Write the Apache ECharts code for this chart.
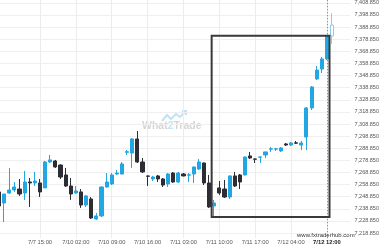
<!DOCTYPE html>
<html><head><meta charset="utf-8">
<script src="https://cdn.jsdelivr.net/npm/echarts@6/dist/echarts.min.js"></script>
<style>html,body{margin:0;padding:0;background:#fff}#c{width:380px;height:250px}</style>
</head><body><div id="c"></div>
<script>
const categories = [
 '7/7 07:00','7/7 08:00','7/7 09:00','7/7 10:00','7/7 11:00','7/7 12:00','7/7 13:00','7/7 14:00','7/7 15:00','7/7 16:00',
 '7/7 17:00','7/7 18:00','7/7 19:00','7/7 20:00','7/7 21:00','7/10 02:00','7/10 03:00','7/10 04:00','7/10 05:00','7/10 06:00',
 '7/10 07:00','7/10 08:00','7/10 09:00','7/10 10:00','7/10 11:00','7/10 12:00','7/10 13:00','7/10 14:00','7/10 15:00','7/10 16:00',
 '7/10 17:00','7/10 18:00','7/10 19:00','7/10 20:00','7/10 21:00','7/11 02:00','7/11 03:00','7/11 04:00','7/11 05:00','7/11 06:00',
 '7/11 07:00','7/11 08:00','7/11 09:00','7/11 10:00','7/11 11:00','7/11 12:00','7/11 13:00','7/11 14:00','7/11 15:00','7/11 16:00',
 '7/11 17:00','7/11 18:00','7/11 19:00','7/11 20:00','7/11 21:00','7/12 02:00','7/12 03:00','7/12 04:00','7/12 05:00','7/12 06:00',
 '7/12 07:00','7/12 08:00','7/12 09:00','7/12 10:00','7/12 12:00','7/12 13:00','7/12 14:00','7/12 15:00','7/12 16:00'
];
const tickLabels = ['7/7 15:00','7/10 02:00','7/10 09:00','7/10 16:00','7/11 03:00','7/11 10:00','7/11 17:00','7/12 04:00','7/12 12:00'];
const opens = [7252.8,7243.7,7251.9,7254.4,7255.2,7251.9,7261.0,7260.2,7260.2,7256.1,
 7277.5,7278.3,7275.0,7266.8,7257.7,7251.9,7252.8,7242.0,7247.0,7230.5,
 7233.0,7256.9,7259.4,7267.6,7267.6,7285.5,7284.9,7296.5,7277.5,7266.0,
 7263.5,7266.0,7263.5,7259.4,7268.4,7261.0,7267.6,7266.6,7267.6,7271.7,
 7276.7,7260.2,7241.2,7256.1,7255.2,7248.6,7266.0,7266.8,7266.8,7282.5,
 7280.0,7281.4,7283.3,7288.1,7288.1,7286.6,7292.4,7291.5,7293.3,7291.5,
 7298.1,7322.1,7346.0,7354.2,7362.5,7381.5];
const closes = [7241.2,7251.1,7254.4,7256.9,7251.1,7261.0,7260.2,7261.8,7252.8,7277.5,
 7279.2,7273.4,7265.1,7257.7,7251.1,7253.6,7242.0,7249.5,7231.3,7233.0,
 7256.9,7261.0,7266.8,7268.4,7275.9,7286.0,7296.5,7277.5,7269.3,7265.7,
 7265.1,7263.5,7258.5,7267.6,7261.0,7268.4,7266.0,7266.9,7273.4,7277.5,
 7260.2,7240.4,7243.7,7251.9,7248.6,7266.0,7257.7,7261.0,7281.6,7280.8,
 7279.8,7281.7,7285.8,7288.4,7288.4,7289.1,7291.5,7293.2,7293.0,7293.2,
 7322.1,7339.4,7353.4,7362.5,7381.5,7390.5];
const lows = [7239.6,7228.0,7251.1,7252.8,7249.5,7246.2,7240.4,7257.7,7248.6,7256.1,
 7276.7,7272.6,7263.5,7256.9,7246.2,7251.5,7239.6,7240.4,7230.5,7229.7,
 7232.1,7256.5,7258.5,7266.8,7267.2,7283.3,7272.6,7276.7,7268.4,7257.7,
 7261.8,7261.0,7256.9,7256.9,7260.2,7260.2,7265.7,7261.0,7260.2,7270.9,
 7258.5,7239.6,7232.1,7250.3,7247.8,7247.0,7256.9,7255.2,7266.4,7280.0,
 7276.7,7276.7,7280.8,7285.8,7286.6,7285.8,7290.7,7290.7,7292.4,7287.4,
 7287.4,7320.4,7345.2,7350.9,7361.7,7374.9];
const highs = [7254.4,7251.1,7272.6,7261.0,7263.5,7270.1,7264.3,7269.3,7263.5,7278.3,
 7283.3,7279.2,7275.5,7272.6,7264.3,7257.7,7255.2,7250.3,7248.6,7235.4,
 7257.3,7268.4,7268.4,7270.9,7277.5,7287.4,7297.3,7303.1,7280.8,7266.2,
 7266.0,7266.8,7264.3,7268.4,7269.3,7269.3,7268.4,7268.4,7273.6,7280.0,
 7277.0,7266.8,7246.2,7261.8,7262.7,7266.4,7269.3,7267.6,7282.0,7285.8,
 7280.2,7281.9,7286.0,7289.9,7289.1,7289.9,7293.2,7294.0,7294.8,7294.8,
 7322.9,7340.2,7356.7,7364.1,7381.6,7400.4];
const rangeStart = 42, rangeEnd = 64;
const currentLabel = '7/12 12:00';

const UP = '#22a6e4', DOWN = '#2d2d35';
const rectLow = Math.min(...lows.slice(rangeStart, rangeEnd + 1));
const rectHigh = Math.max(...highs.slice(rangeStart, rangeEnd + 1));
const candleData = categories.map((c, i) => {
  if (i >= opens.length) return '-';
  const v = [opens[i], closes[i], lows[i], highs[i]];
  if (i === opens.length - 1) return {value: v, itemStyle: {color: '#ffffff', borderColor: '#86cff2'}};
  return v;
});
const fmt = v => {
  const s = v.toFixed(3); const [a, b] = s.split('.');
  return a.replace(/\B(?=(\d{3})+(?!\d))/g, ',') + '.' + b;
};
const yBot = 7214.6, yTop = 7411.2;
const gridLines = tickLabels.map(l => [{coord: [l, yBot]}, {coord: [l, yTop]}]);
gridLines.push([{coord: [currentLabel, yBot], lineStyle: {color: '#5f8088', type: [1, 2], width: 1}}, {coord: [currentLabel, yTop]}]);

const chart = echarts.init(document.getElementById('c'), null, {renderer: 'canvas'});
chart.setOption({
  animation: false,
  grid: {left: -3.56, right: 30, top: -9.32, bottom: 4.8, containLabel: false, outerBoundsMode: 'none'},
  xAxis: {
    type: 'category', data: categories, boundaryGap: true, offset: -8,
    axisLine: {show: false}, axisTick: {show: false}, splitLine: {show: false},
    axisLabel: {
      margin: 2, fontSize: 5.8, color: '#555', fontFamily: 'Liberation Sans',
      interval: (i, v) => tickLabels.includes(v),
      formatter: v => v === currentLabel ? '{b|' + v + '}' : v,
      rich: {b: {fontSize: 5.8, color: '#222', fontWeight: 'bold', fontFamily: 'Liberation Sans'}}
    }
  },
  yAxis: {
    type: 'value', position: 'right', min: 7208.85, max: 7418.85, interval: 10, scale: true,
    axisLine: {show: false}, axisTick: {show: false},
    splitLine: {show: true, showMinLine: false, showMaxLine: false, lineStyle: {color: '#efefef', width: 1}},
    axisLabel: {
      margin: 4.5, fontSize: 5.5, color: '#555', fontFamily: 'Liberation Sans',
      formatter: v => (v < 7218 || v > 7409) ? '' : fmt(v)
    }
  },
  graphic: {elements: [
    {type: 'polyline', z: 0, silent: true, shape: {points: [[162,121],[167,115],[171,119],[176,114],[180,117],[186,111]]}, style: {stroke: '#bfe3f5', lineWidth: 2, fill: null}},
    {type: 'polyline', z: 0, silent: true, shape: {points: [[182,111],[186,111],[186,115]]}, style: {stroke: '#bfe3f5', lineWidth: 2, fill: null}},
    {type: 'text', z: 0, silent: true, left: 142, top: 121, style: {text: '{a|What}{b|2}{a|Trade}', rich: {
      a: {fill: '#d4d4d4', fontSize: 10.5, fontWeight: 'bold', fontFamily: 'Liberation Sans'},
      b: {fill: '#c2e4f5', fontSize: 10.5, fontWeight: 'bold', fontFamily: 'Liberation Sans'}}}},
    {type: 'text', z: 10, silent: true, left: 297, top: 232, style: {text: 'www.fxtraderhub.com', fill: '#333', fontSize: 6, fontFamily: 'Liberation Sans'}}
  ]},
  series: [
    {
      type: 'candlestick', z: 3, data: candleData, barWidth: 3.6,
      itemStyle: {color: UP, color0: DOWN, borderColor: UP, borderColor0: DOWN, borderWidth: 1},
      markLine: {
        silent: true, symbol: 'none', z: 1, animation: false,
        label: {show: false},
        lineStyle: {color: '#ececec', type: 'solid', width: 1},
        data: gridLines
      }
    },
    {
      type: 'custom', z: 5, silent: true,
      data: [[rangeStart, rangeEnd, rectLow, rectHigh]],
      encode: {x: [0, 1], y: [2, 3]},
      renderItem: (params, api) => {
        const half = api.size([1, 0])[0] / 2;
        const p1 = api.coord([api.value(0), api.value(3)]);
        const p2 = api.coord([api.value(1), api.value(2)]);
        return {type: 'rect', shape: {x: p1[0] - half, y: p1[1], width: p2[0] - p1[0] + 2 * half, height: p2[1] - p1[1]},
          style: {fill: 'none', stroke: '#3a3a3a', lineWidth: 2}};
      }
    }
  ]
});
</script></body></html>
